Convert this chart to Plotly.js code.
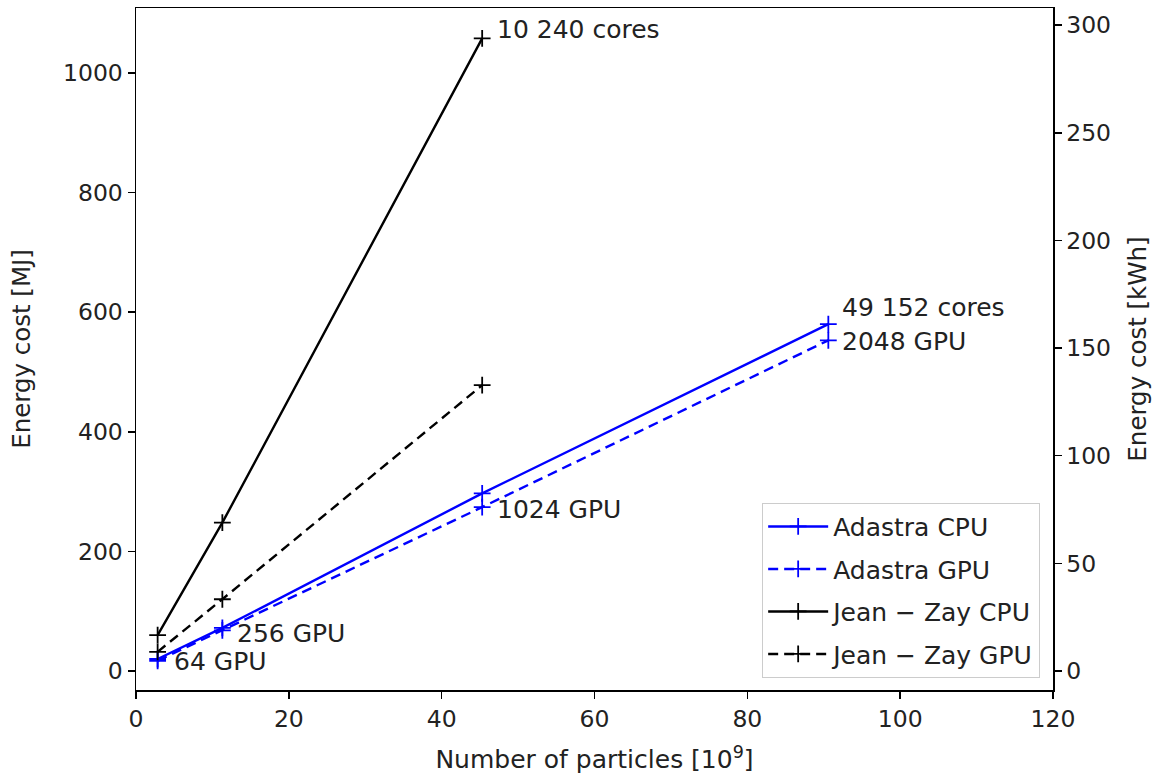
<!DOCTYPE html>
<html>
<head>
<meta charset="utf-8">
<script src="https://cdn.plot.ly/plotly-3.0.1.min.js"></script>
<style>html,body{margin:0;padding:0;background:#fff;}#chart{width:1154px;height:776px;}</style>
</head>
<body>
<div id="chart"></div>
<script>
// Number of particles [10^9]
const particlesAdastra = [2.83, 11.3, 45.3, 90.6];
const particlesJeanZay = [2.83, 11.3, 45.3];
// Energy cost [MJ]
const adastraCPU = [20, 72, 297, 580];
const adastraGPU = [17, 68, 274, 553];
const jeanZayCPU = [60, 248, 1058];
const jeanZayGPU = [32, 120, 478];

const seriesNames = ["Adastra CPU", "Adastra GPU", "Jean \u2212 Zay CPU", "Jean \u2212 Zay GPU"];
const pointLabels = ["64 GPU", "256 GPU", "1024 GPU", "2048 GPU"];
const cpuLabelAdastra = "49 152 cores";
const cpuLabelJeanZay = "10 240 cores";

const xTicks = [0, 20, 40, 60, 80, 100, 120];
const yLeftTicks = [0, 200, 400, 600, 800, 1000];
const yRightTicks = [0, 50, 100, 150, 200, 250, 300];

const MJ_PER_KWH = 3.6;
const yRange = [-31.8, 1108.7];

const FONT = "DejaVu Sans, sans-serif";
const FS = 25;
const TITLEFS = 24.5;
const TICKFS = 23.5;
const TXT = "#222222";

function trace(x, y, name, color, dash, group) {
  return {
    x: x, y: y, name: name, type: "scatter", mode: "lines+markers",
    legendgroup: group,
    line: {color: color, width: 2.4, dash: dash},
    marker: {symbol: "cross-thin", size: 12, color: color, line: {color: color, width: 1.8}}
  };
}

const data = [
  trace(particlesAdastra, adastraCPU, seriesNames[0], "#0000ff", "solid", "g1"),
  trace(particlesAdastra, adastraGPU, seriesNames[1], "#0000ff", "10px,6px", "g2"),
  trace(particlesJeanZay, jeanZayCPU, seriesNames[2], "#000000", "solid", "g3"),
  trace(particlesJeanZay, jeanZayGPU, seriesNames[3], "#000000", "10px,6px", "g4"),
  // invisible trace to activate right axis
  {x: [particlesAdastra[0]], y: [adastraCPU[0] / MJ_PER_KWH], yaxis: "y2", type: "scatter",
   mode: "markers", marker: {opacity: 0}, showlegend: false, hoverinfo: "skip"}
];

function ann(x, y, text, xs, ys) {
  return {x: x, y: y, xref: "x", yref: "y", text: text, showarrow: false,
          xanchor: "left", yanchor: "middle", xshift: xs, yshift: ys,
          font: {family: FONT, size: FS, color: TXT}};
}

const annotations = [
  ann(particlesJeanZay[2], jeanZayCPU[2], cpuLabelJeanZay, 13, 9),
  ann(particlesAdastra[3], adastraCPU[3], cpuLabelAdastra, 12, 17),
  ann(particlesAdastra[3], adastraGPU[3], pointLabels[3], 12, -1),
  ann(particlesAdastra[2], adastraGPU[2], pointLabels[2], 13, -2),
  ann(particlesAdastra[1], adastraGPU[1], pointLabels[1], 13, -3),
  ann(particlesAdastra[0], adastraGPU[0], pointLabels[0], 14, -1)
];

const axisCommon = {
  showline: true, linecolor: "#000", linewidth: 1.5,
  ticks: "outside", ticklen: 7, tickwidth: 1.5, tickcolor: "#000",
  showgrid: false, zeroline: false,
  tickfont: {family: FONT, size: TICKFS, color: TXT}
};

const layout = {
  width: 1154, height: 776,
  margin: {l: 136, r: 101, t: 8, b: 86},
  paper_bgcolor: "#fff", plot_bgcolor: "#fff",
  font: {family: FONT, size: FS, color: TXT},
  xaxis: Object.assign({}, axisCommon, {
    range: [0, 120], tickvals: xTicks, mirror: true,
    title: {text: "Number of particles [10<sup>9</sup>]", font: {family: FONT, size: FS, color: TXT}, standoff: 19}
  }),
  yaxis: Object.assign({}, axisCommon, {
    range: yRange, tickvals: yLeftTicks,
    title: {text: "Energy cost [MJ]", font: {family: FONT, size: TITLEFS, color: TXT}, standoff: 25}
  }),
  yaxis2: Object.assign({}, axisCommon, {
    overlaying: "y", side: "right",
    range: [yRange[0] / MJ_PER_KWH, yRange[1] / MJ_PER_KWH], tickvals: yRightTicks,
    title: {text: "Energy cost [kWh]", font: {family: FONT, size: TITLEFS, color: TXT}, standoff: 19}
  }),
  legend: {
    x: 0.986, y: 0.018, xanchor: "right", yanchor: "bottom",
    bgcolor: "rgba(255,255,255,0.8)", bordercolor: "#cccccc", borderwidth: 1,
    font: {family: FONT, size: FS, color: TXT},
    traceorder: "grouped", tracegroupgap: 7, itemwidth: 60
  },
  annotations: annotations,
  showlegend: true
};

Plotly.newPlot("chart", data, layout, {displayModeBar: false, staticPlot: true});
</script>
</body>
</html>
